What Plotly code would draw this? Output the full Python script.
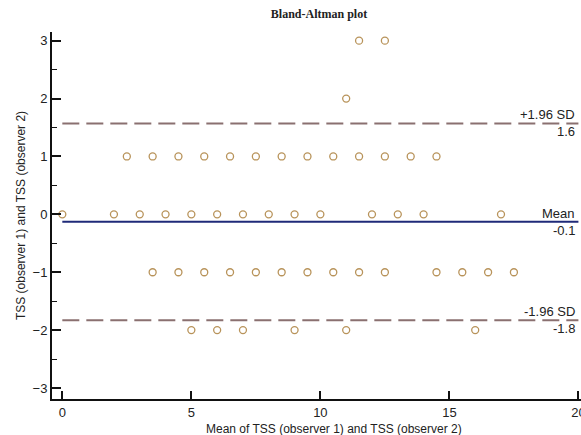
import plotly.graph_objects as go

# Data points: mean (x) and difference (y)
diff_3 = [11.5, 12.5]
diff_2 = [11]
diff_1 = [2.5, 3.5, 4.5, 5.5, 6.5, 7.5, 8.5, 9.5, 10.5, 11.5, 12.5, 13.5, 14.5]
diff_0 = [0, 2, 3, 4, 5, 6, 7, 8, 9, 10, 12, 13, 14, 17]
diff_m1 = [3.5, 4.5, 5.5, 6.5, 7.5, 8.5, 9.5, 10.5, 11.5, 12.5, 14.5, 15.5, 16.5, 17.5]
diff_m2 = [5, 6, 7, 9, 11, 16]

rows = [(3, diff_3), (2, diff_2), (1, diff_1), (0, diff_0), (-1, diff_m1), (-2, diff_m2)]
xs, ys = [], []
for yv, xl in rows:
    for xv in xl:
        xs.append(xv)
        ys.append(yv)

mean_diff = -0.13
upper_loa = 1.57
lower_loa = -1.83
line_x = [0, 20]
mean_label = "-0.1"
upper_label = "1.6"
lower_label = "-1.8"

x_ticks = [0, 5, 10, 15, 20]
y_ticks = [-3, -2, -1, 0, 1, 2, 3]

fig = go.Figure()
fig.add_trace(go.Scatter(x=xs, y=ys, mode="markers",
                         marker=dict(symbol="circle-open", size=7, color="#b8935a",
                                     line=dict(width=1.3, color="#b8935a")),
                         hoverinfo="skip"))
fig.add_trace(go.Scatter(x=line_x, y=[mean_diff, mean_diff], mode="lines",
                         line=dict(color="#1f2a78", width=2)))
for v in (upper_loa, lower_loa):
    fig.add_trace(go.Scatter(x=line_x, y=[v, v], mode="lines",
                             line=dict(color="#8a7070", width=2, dash="17px,7px")))

lab_font = dict(family="Liberation Sans, Arial", size=13, color="#222")
anns = [
    ("+1.96 SD", upper_loa, "bottom"), (upper_label, upper_loa, "top"),
    ("Mean", mean_diff, "bottom"), (mean_label, mean_diff, "top"),
    ("-1.96 SD", lower_loa, "bottom"), (lower_label, lower_loa, "top"),
]
for txt, yv, anc in anns:
    fig.add_annotation(x=1, xref="paper", y=yv, yref="y", text=txt, showarrow=False,
                       xanchor="right", yanchor=anc, xshift=-4,
                       yshift=(-1 if anc == "bottom" else 1), font=lab_font)

# x-axis title (offset to the right of centre, as in the reference)
fig.add_annotation(x=(334 - 52) / 529, xref="paper", y=(399 - 429) / 367, yref="paper",
                   text="Mean of TSS (observer 1) and TSS (observer 2)", showarrow=False,
                   xanchor="center", yanchor="middle",
                   font=dict(family="Liberation Sans, Arial", size=12, color="#222"))

fig.update_layout(
    width=581, height=435,
    margin=dict(l=52, r=0, t=32, b=36),
    paper_bgcolor="white", plot_bgcolor="white",
    showlegend=False,
    title=dict(text="<b>Bland-Altman plot</b>", x=319 / 581, xanchor="center",
               y=1 - 14 / 435, yanchor="middle",
               font=dict(family="Liberation Serif, Times New Roman", size=12, color="#222")),
    font=dict(family="Liberation Sans, Arial", size=12, color="#222"),
)
fig.update_xaxes(range=[-0.4, 20.1], tickvals=x_ticks, ticks="inside", ticklen=8,
                 tickwidth=2, tickcolor="#111", showline=True, linecolor="#111", linewidth=2,
                 showgrid=False, zeroline=False, ticklabeloverflow="allow", automargin=False,
                 tickfont=dict(size=13, color="#222"))
fig.update_yaxes(range=[-3.19, 3.15], tickvals=y_ticks, ticks="inside", ticklen=9,
                 tickwidth=2, tickcolor="#111", showline=True, linecolor="#111", linewidth=2,
                 showgrid=False, zeroline=False, automargin=False,
                 minor=dict(tickvals=[-2.5, -1.5, -0.5, 0.5, 1.5, 2.5], ticks="inside",
                            ticklen=5, tickwidth=1, tickcolor="#111"),
                 tickfont=dict(size=13, color="#222"),
                 title=dict(text="TSS (observer 1) and TSS (observer 2)",
                            font=dict(size=12, color="#222"), standoff=4))

fig.write_html("out.html", config={"displayModeBar": False},
               post_script="document.body.style.margin='0';")
